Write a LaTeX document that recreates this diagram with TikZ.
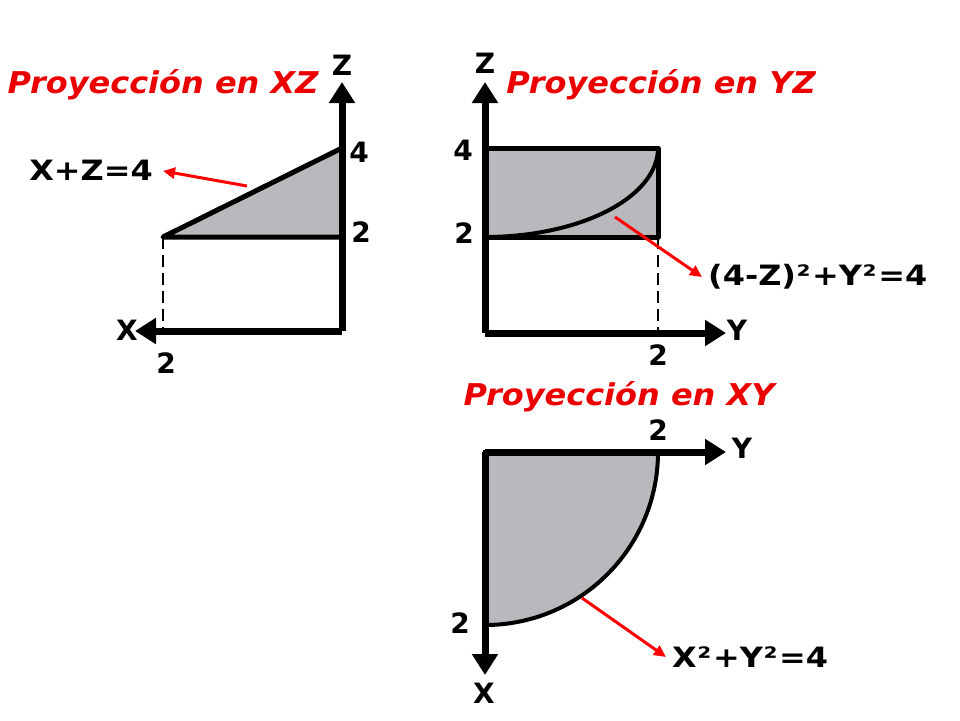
\documentclass[tikz,border=0pt]{standalone}
\usepackage{fontspec}
\setmainfont{DejaVu Sans}
\usetikzlibrary{arrows.meta}
\definecolor{regiongray}{RGB}{186,184,188}
\definecolor{titlered}{RGB}{235,0,0}
\newcommand\lblstretch[1]{\scalebox{1.14}[1]{#1}}
\newcommand\ttlstretch[1]{\scalebox{1.066}[1]{#1}}
\newcommand\sqsup{\kern0.5pt²\kern1.5pt}
\begin{document}
\begin{tikzpicture}[x=1pt,y=-1pt,
  axis/.style={line width=7pt,-{Triangle[length=21pt,width=25pt]}},
  edge/.style={line width=5pt,line join=round},
  curve/.style={line width=4pt},
  guide/.style={line width=2.8pt,dash pattern=on 12pt off 6pt},
  redarrow/.style={draw=red,line width=3pt,-{Triangle[length=12pt,width=11pt]}},
  title/.style={text=titlered,font=\fontsize{30}{32}\selectfont\bfseries\itshape,anchor=base,inner sep=0pt},
  lbl/.style={font=\fontsize{28}{30}\selectfont\bfseries,anchor=base,inner sep=0pt},
  eq/.style={font=\fontsize{28}{30}\selectfont\bfseries,anchor=base west,inner sep=0pt}]
\useasboundingbox (0,0) rectangle (960,720);
\fill[white] (0,0) rectangle (960,720);

% ---------- XZ projection ----------
\coordinate (xzO) at (342,331);
\coordinate (xzZ) at (342,82);
\coordinate (xzX) at (135,331);
\coordinate (xzA) at (163,237);
\coordinate (xzB) at (342,148);
\coordinate (xzC) at (342,237);
\coordinate (xzD) at (163,331);
\filldraw[fill=regiongray,edge] (xzA) -- (xzB) -- (xzC) -- cycle;
\draw[guide] (xzA) -- (xzD);
\draw[axis] (xzO) -- (xzZ);
\draw[axis] (xzO) -- (xzX);
\node[title] (tXZ) at (163,93) {\ttlstretch{Proyección en XZ}};
\node[lbl] (xzZl) at (342,75) {Z};
\node[lbl] (xz4) at (359,162) {4};
\node[lbl] (xz2a) at (361,242) {2};
\node[lbl] (xzXl) at (127,340) {X};
\node[lbl] (xz2b) at (166,373) {2};
\node[lbl] (xzEq) at (91,180) {\lblstretch{X+Z=4}};
\coordinate (xzP) at (247,186);
\coordinate (xzT) at (163,171);
\draw[redarrow] (xzP) -- (xzT);

% ---------- YZ projection ----------
\coordinate (yzO) at (485,333);
\coordinate (yzZ) at (485,82);
\coordinate (yzY) at (726,333);
\coordinate (yzR1) at (485,148);
\coordinate (yzR2) at (658,237);
\coordinate (yzD) at (658,333);
\filldraw[fill=regiongray,edge] (yzR1) rectangle (yzR2);
\draw[curve] plot[domain=0:90,samples=50,smooth] ({485+173*sin(\x)},{237-89*(1-cos(\x))});
\draw[guide] (yzR2) -- (yzD);
\draw[axis] (yzO) -- (yzZ);
\draw[axis] (yzO) -- (yzY);
\node[title] (tYZ) at (661,93) {\ttlstretch{Proyección en YZ}};
\node[lbl] (yzZl) at (485,73) {Z};
\node[lbl] (yz4) at (463,160) {4};
\node[lbl] (yz2a) at (464,243) {2};
\node[lbl] (yz2b) at (658,365) {2};
\node[lbl] (yzYl) at (737,340) {Y};
\node[eq] (yzEq) at (708,285) {\lblstretch{(4-Z)\sqsup+Y\sqsup=4}};
\coordinate (yzP) at (615,217);
\coordinate (yzT) at (702,277);
\draw[redarrow] (yzP) -- (yzT);

% ---------- XY projection ----------
\coordinate (xyO) at (485,452);
\coordinate (xyY) at (726,452);
\coordinate (xyX) at (485,675);
\filldraw[fill=regiongray,curve] (xyO) -- (658,452) arc[start angle=0,end angle=90,radius=173] -- cycle;
\draw[axis] (xyO) -- (xyY);
\draw[axis] (xyO) -- (xyX);
\node[title] (tXY) at (619,405) {\ttlstretch{Proyección en XY}};
\node[lbl] (xy2a) at (658,440) {2};
\node[lbl] (xyYl) at (742,458) {Y};
\node[lbl] (xy2b) at (460,633) {2};
\node[lbl] (xyXl) at (484,703) {X};
\node[eq] (xyEq) at (672,667) {\lblstretch{X\sqsup+Y\sqsup=4}};
\coordinate (xyP) at (582,598);
\coordinate (xyT) at (666,657);
\draw[redarrow] (xyP) -- (xyT);
\end{tikzpicture}
\end{document}
